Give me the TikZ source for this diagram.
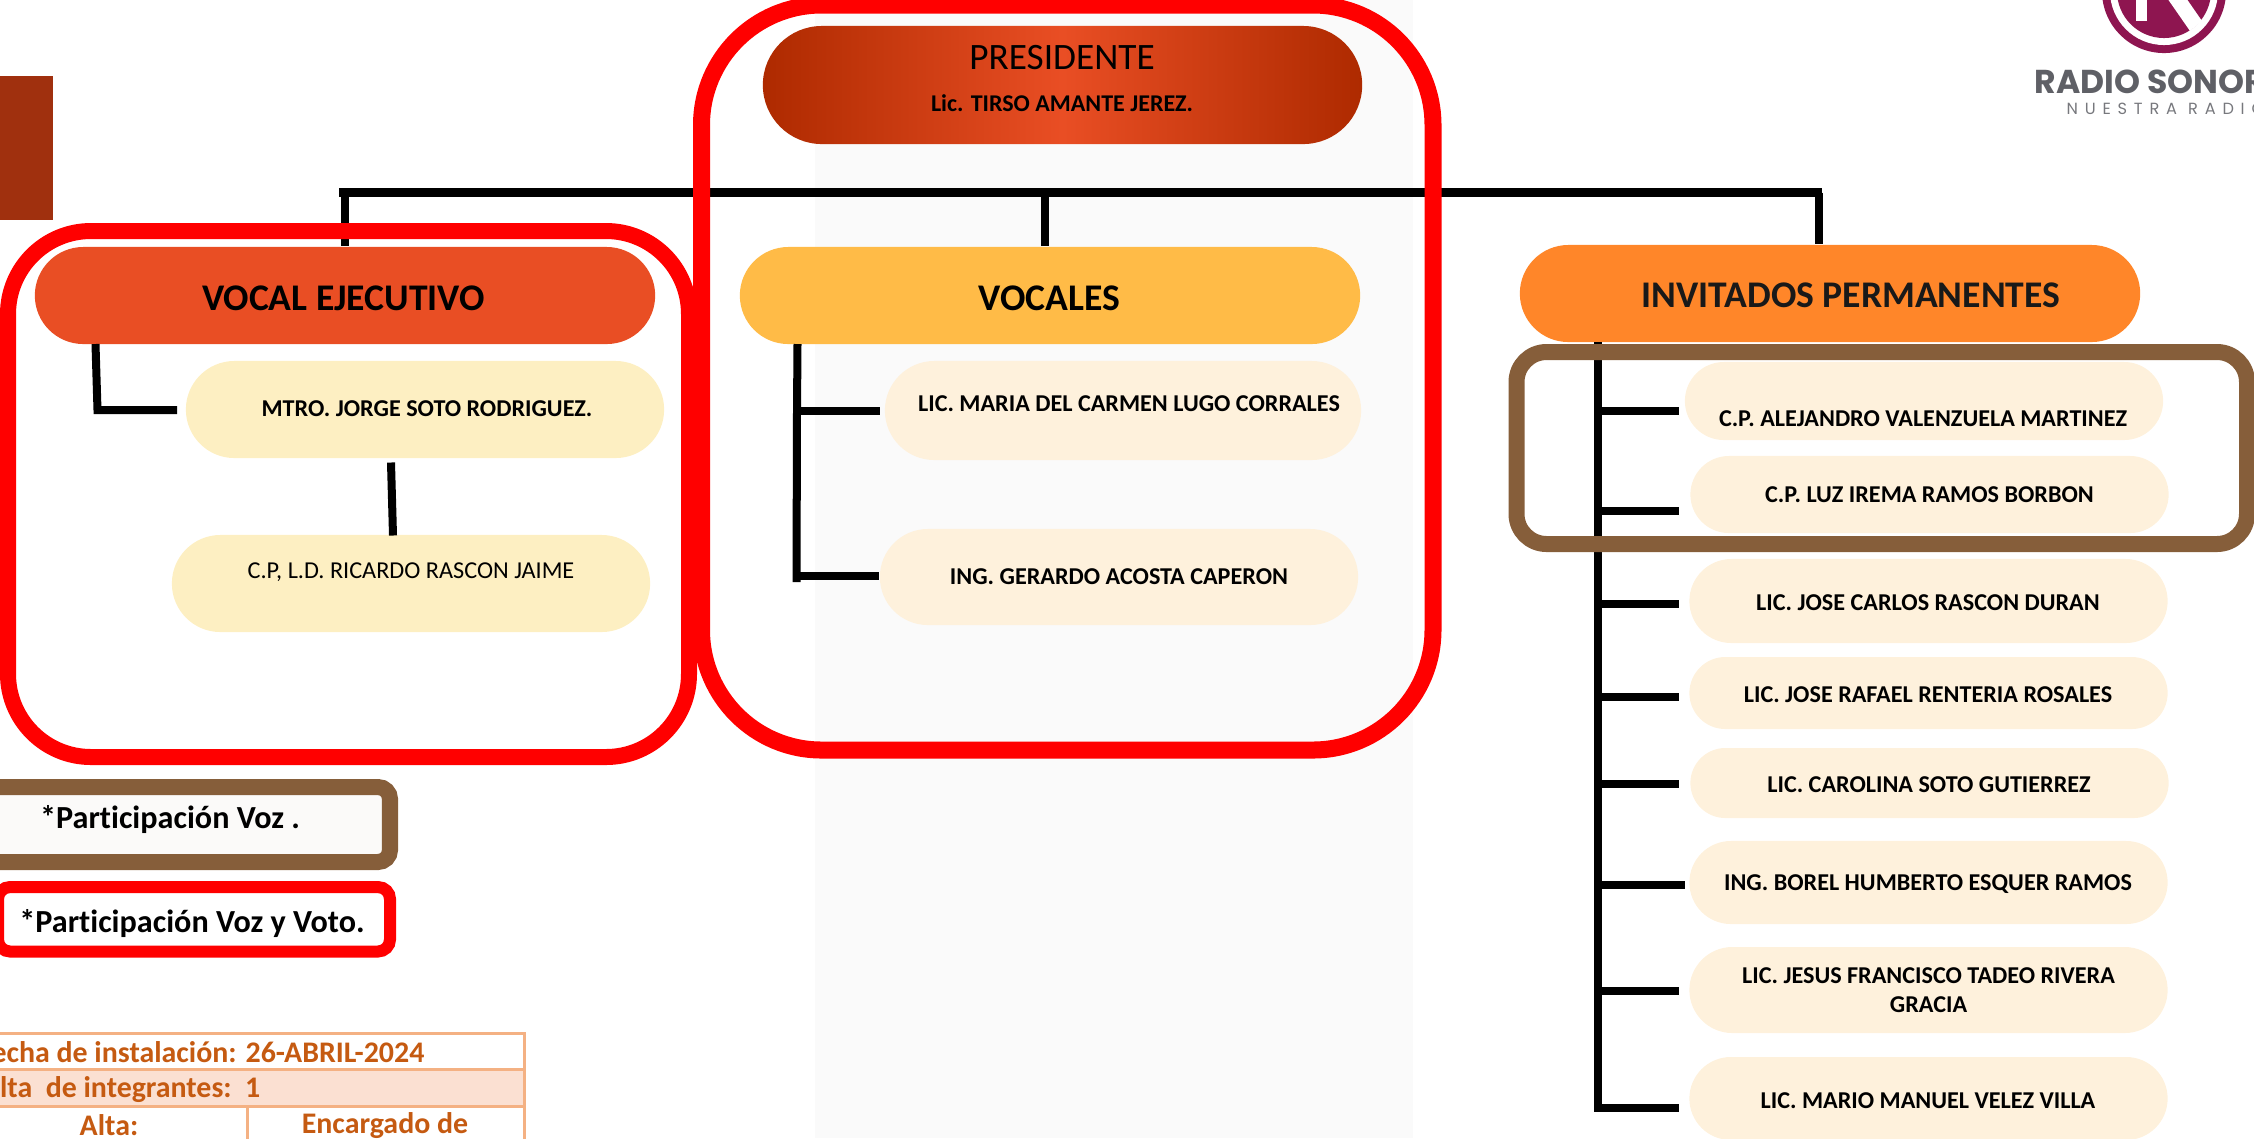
\documentclass[tikz,border=0pt]{standalone}
\usepackage{fontspec}
\setmainfont[Ligatures=NoCommon]{Carlito}
\newfontfamily\logofont{Poppins}
\usetikzlibrary{shapes.misc}

\definecolor{darkbar}{HTML}{A0300E}
\definecolor{panelgrey}{HTML}{FAFAFA}
\definecolor{presdark}{HTML}{AE2A00}
\definecolor{preslight}{HTML}{E94E24}
\definecolor{vocalejec}{HTML}{E94E24}
\definecolor{vocalfill}{HTML}{FFBB47}
\definecolor{invfill}{HTML}{FF8629}
\definecolor{ejecname}{HTML}{FDEFC2}
\definecolor{softname}{HTML}{FEF1DC}
\definecolor{brownline}{HTML}{865E3A}
\definecolor{tabline}{HTML}{F4B183}
\definecolor{tabfill}{HTML}{FBE0D2}
\definecolor{tabtext}{HTML}{C55A11}
\definecolor{logored}{HTML}{8E1550}
\definecolor{logogrey}{HTML}{5F6066}

\begin{document}
\begin{tikzpicture}[x=0.01cm,y=-0.01cm]

	\tikzstyle{pill}=[rounded rectangle,inner sep=0pt,minimum width=4.78cm,align=center,font=\fontsize{6.87}{8.4}\selectfont\bfseries]
	\tikzstyle{headpill}=[pill,minimum width=6.2cm,minimum height=0.97cm]
	\tikzstyle{headtext}=[inner sep=0pt,font=\fontsize{10.7}{13}\selectfont\bfseries]
	\tikzstyle{nametext}=[inner sep=0pt,font=\fontsize{6.87}{8.4}\selectfont\bfseries]
	\tikzstyle{conn}=[draw=black,line width=0.08cm]
	\tikzstyle{redframe}=[draw=red,line width=0.16cm,rounded corners=0.83cm]
	\tikzstyle{brownframe}=[draw=brownline,line width=0.16cm,rounded corners=0.3cm]
	\tikzstyle{legendtext}=[inner sep=0pt,font=\fontsize{9.15}{11}\selectfont\bfseries]
	\tikzstyle{tabrow}=[draw=tabline,line width=0.03cm]
	\tikzstyle{tabtxt}=[inner sep=0pt,text=tabtext,font=\fontsize{8.5}{10}\selectfont\bfseries]

	\useasboundingbox (0,0) rectangle (2254,1138);
	\clip (0,0) rectangle (2254,1138);

	\fill[panelgrey] (815,0) rectangle (1413,1138);
	\fill[darkbar] (0,76) rectangle (53,220);

	% logo
	\fill[logored] (2164,-9) circle (0.62cm);
	\fill[white] (2164,-9) circle (0.54cm);
	\fill[logored] (2164,-9) circle (0.47cm);
	\fill[white] (2136,-5) rectangle (2147,21);
	\fill[white] (2165,-5) -- (2190,31) -- (2202,21) -- (2184,-5) -- cycle;
	\node[anchor=base west,inner sep=0pt,text=logogrey,font=\logofont\fontsize{9.4}{11}\selectfont\bfseries] (logoname) at (2034,93) {RADIO SONORA};
	\node[anchor=base west,inner sep=0pt,text=logogrey!85,font=\logofont\fontsize{4.6}{6}\selectfont\addfontfeatures{LetterSpace=42}] (logoline) at (2066,114) {NUESTRA RADIO};

	% pills
	\node[pill,minimum width=5.99cm,minimum height=1.18cm,left color=presdark,right color=presdark,middle color=preslight] (presidente) at (1062.5,85) {};
	\node[inner sep=0pt,font=\fontsize{10.6}{13}\selectfont] (prestitle) at (1062,58) {PRESIDENTE};
	\node[nametext,font=\fontsize{6.83}{8.4}\selectfont\bfseries] (presname) at (1062,103) {Lic. TIRSO AMANTE JEREZ.};

	\node[headpill,fill=vocalejec] (ejecutivo) at (345,295.5) {};
	\node[headtext] (ejecutivotxt) at (343.5,298.5) {VOCAL EJECUTIVO};
	\node[headpill,fill=vocalfill] (vocales) at (1050,295.5) {};
	\node[headtext] (vocalestxt) at (1049.5,298.5) {VOCALES};
	\node[headpill,fill=invfill] (invitados) at (1830,293.5) {};
	\node[headtext,text=black!90] (invitadostxt) at (1851,295) {INVITADOS PERMANENTES};

	\node[pill,fill=ejecname,minimum height=0.97cm] (mtro) at (425,409.5) {};
	\node[nametext] (mtrotxt) at (427,408.5) {MTRO. JORGE SOTO RODRIGUEZ.};
	\node[pill,fill=ejecname,minimum height=0.97cm] (ricardo) at (411,583.5) {};
	\node[nametext,font=\fontsize{6.9}{8.4}\selectfont] (ricardotxt) at (411,572) {C.P, L.D. RICARDO RASCON JAIME};

	\node[pill,fill=softname,minimum width=4.76cm,minimum height=0.99cm] (maria) at (1123,410.5) {};
	\node[nametext] (mariatxt) at (1129,404) {LIC. MARIA DEL CARMEN LUGO CORRALES};
	\node[pill,fill=softname,minimum height=0.96cm] (gerardo) at (1119,577) {ING. GERARDO ACOSTA CAPERON};

	\node[pill,fill=softname,minimum height=0.78cm] (alejandro) at (1924,401) {};
	\node[nametext] (alejandrotxt) at (1923,419) {C.P. ALEJANDRO VALENZUELA MARTINEZ};
	\node[pill,fill=softname,minimum height=0.77cm] (luz) at (1929.5,494.5) {C.P. LUZ IREMA RAMOS BORBON};
	\node[pill,fill=softname,minimum height=0.84cm] (josecarlos) at (1928.5,601) {};
	\node[nametext] (josecarlostxt) at (1928,602.5) {LIC. JOSE CARLOS RASCON DURAN};
	\node[pill,fill=softname,minimum height=0.72cm] (joserafael) at (1928.5,693) {};
	\node[nametext] (joserafaeltxt) at (1928,694.5) {LIC. JOSE RAFAEL RENTERIA ROSALES};
	\node[pill,fill=softname,minimum height=0.70cm] (carolina) at (1929.5,783) {};
	\node[nametext] (carolinatxt) at (1929,784.5) {LIC. CAROLINA SOTO GUTIERREZ};
	\node[pill,fill=softname,minimum height=0.83cm] (borel) at (1928.5,882.5) {};
	\node[nametext] (boreltxt) at (1928,884) {ING. BOREL HUMBERTO ESQUER RAMOS};
	\node[pill,fill=softname,minimum height=0.86cm] (jesus) at (1928.5,990) {LIC. JESUS FRANCISCO TADEO RIVERA\\GRACIA};
	\node[pill,fill=softname,minimum height=0.83cm] (mario) at (1928.5,1098.5) {};
	\node[nametext] (mariotxt) at (1928,1100.5) {LIC. MARIO MANUEL VELEZ VILLA};

	% connectors
	\coordinate (busleft) at (339,192.5);
	\coordinate (busright) at (1822,192.5);
	\coordinate (vocalestop) at (1045,192.5);
	\coordinate (invtop) at (1818.5,192.5);
	\draw[conn,line width=0.09cm] (busleft) -- (busright);
	\draw[conn] (ejecutivo.north |- busleft) -- (ejecutivo.north);
	\draw[conn] (vocalestop) -- (vocalestop |- vocales.north);
	\draw[conn] (invtop) -- (invtop |- invitados.north);

	\coordinate (ejectop) at (95.5,344);
	\coordinate (ejecturn) at (97.5,410);
	\draw[conn,shorten >=0.08cm] (ejectop) -- (ejecturn) -- (ejecturn -| mtro.west);
	\coordinate (mtrofoot) at (391,462.5);
	\coordinate (ricardohead) at (393,535.5);
	\draw[conn] (mtrofoot) -- (ricardohead);

	\coordinate (vocaltrunk) at (797.5,344);
	\coordinate (mariaturn) at (797,411);
	\coordinate (gerardoturn) at (796.5,576);
	\coordinate (vocalfoot) at (796.5,582);
	\draw[conn] (vocaltrunk) -- (mariaturn) -- (vocalfoot);
	\draw[conn,shorten >=0.04cm] (mariaturn) -- (mariaturn -| maria.west);
	\draw[conn] (gerardoturn) -- (gerardoturn -| gerardo.west);

	\coordinate (invtrunk) at (1598,342);
	\coordinate (invfoot) at (1598,1112);
	\draw[conn] (invtrunk) -- (invfoot);
	\coordinate (aleturn) at (1598,411);
	\coordinate (luzturn) at (1598,511);
	\coordinate (jcturn) at (1598,604);
	\coordinate (jrturn) at (1598,697);
	\coordinate (caroturn) at (1598,784);
	\coordinate (borelturn) at (1598,885);
	\coordinate (jesusturn) at (1598,990.5);
	\coordinate (marioturn) at (1598,1108);
	\draw[conn,shorten >=0.05cm] (aleturn) -- (aleturn -| alejandro.west);
	\draw[conn,shorten >=0.11cm] (luzturn) -- (luzturn -| luz.west);
	\draw[conn,shorten >=0.10cm] (jcturn) -- (jcturn -| josecarlos.west);
	\draw[conn,shorten >=0.10cm] (jrturn) -- (jrturn -| joserafael.west);
	\draw[conn,shorten >=0.11cm] (caroturn) -- (caroturn -| carolina.west);
	\draw[conn,shorten >=0.04cm] (borelturn) -- (borelturn -| borel.west);
	\draw[conn,shorten >=0.10cm] (jesusturn) -- (jesusturn -| jesus.west);
	\draw[conn,shorten >=0.10cm] (marioturn) -- (marioturn -| mario.west);

	% frames
	\draw[redframe] (8,231) rectangle (689,757);
	\draw[redframe,line width=0.17cm,rounded corners=1.2cm] (701.5,5) rectangle (1433,750);
	\draw[brownframe] (1516.5,352) rectangle (2247,544);

	% legend
	\draw[brownframe,fill=white!97!brownline,rounded corners=0.12cm] (-20,787) rectangle (390,862);
	\node[legendtext] (legendvoz) at (170,819.5) {*Participación Voz .};
	\draw[redframe,fill=white,line width=0.12cm,rounded corners=0.12cm] (-2,887) rectangle (390,951.5);
	\node[legendtext] (legendvoto) at (192,923) {*Participación Voz y Voto.};

	% table
	\draw[tabrow] (-20,1033) rectangle (524,1069);
	\draw[tabrow,fill=tabfill] (-20,1069) rectangle (524,1106);
	\draw[tabrow] (-20,1106) rectangle (524,1170);
	\draw[tabrow] (247.5,1106) -- (247.5,1170);
	\node[tabtxt,anchor=east] (fecha) at (425,1052) {Fecha de instalación: 26-ABRIL-2024};
	\node[tabtxt,anchor=east] (altaint) at (261,1090) {Alta\ \ de integrantes:\ \ 1};
	\node[tabtxt] (alta) at (109,1125.5) {Alta:};
	\node[tabtxt] (encargado) at (385,1125.5) {Encargado de};

\end{tikzpicture}
\end{document}
